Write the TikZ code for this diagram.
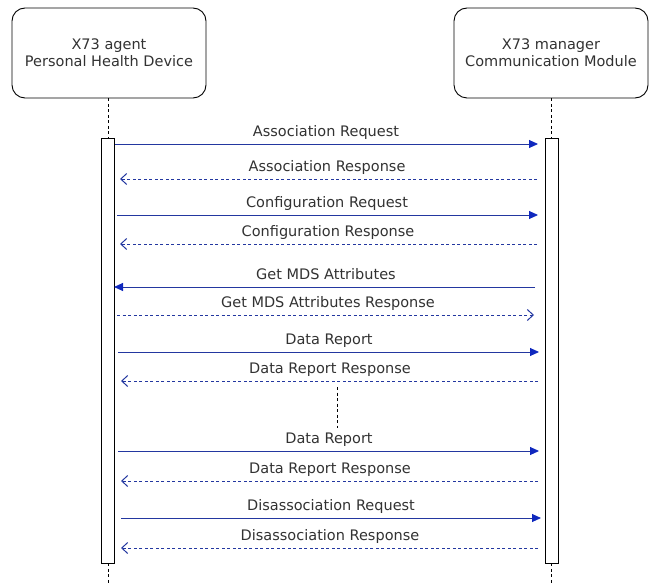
\documentclass[tikz,border=0pt]{standalone}
\usepackage{fontspec}
\setmainfont{DejaVu Sans}
\usetikzlibrary{arrows.meta}
\definecolor{msgblue}{RGB}{35,55,160}
\definecolor{headblue}{RGB}{15,40,190}
\definecolor{txtgray}{RGB}{50,50,50}
\tikzset{
  actor/.style={draw=black, line width=0.9pt, rounded corners=13pt, minimum width=194pt, minimum height=90pt, align=center, text=txtgray, font=\fontsize{14.5}{17}\selectfont},
  actbar/.style={draw=black, line width=0.9pt, fill=white, minimum width=13pt, minimum height=425pt, inner sep=0pt},
  life/.style={draw=black, dash pattern=on 3pt off 2.5pt, line width=0.8pt},
  req/.style={draw=msgblue, line width=0.9pt, -{Triangle[length=9pt,width=8pt,color=headblue]}},
  resp/.style={draw=msgblue, line width=0.9pt, dash pattern=on 3pt off 2.5pt, -{Straight Barb[length=6pt,width=11pt,line width=1pt]}},
  lbl/.style={text=txtgray, font=\fontsize{14.5}{16}\selectfont, inner sep=0pt, anchor=base}
}
\begin{document}
\begin{tikzpicture}[x=1pt,y=-1pt]
\useasboundingbox (0,0) rectangle (655,585);
\node[actor] (A) at (109,53) {X73 agent\\Personal Health Device};
\node[actor] (M) at (551,53) {X73 manager\\Communication Module};
\node[actbar] (LA) at (108,350.5) {};
\node[actbar] (RA) at (551.5,350.5) {};
\coordinate (Aend) at (108,585);
\coordinate (Mend) at (551.5,585);
\draw[life] (A.south -| LA.north) -- (LA.north);
\draw[life] (M.south -| RA.north) -- (RA.north);
\draw[life] (LA.south) -- (Aend);
\draw[life] (RA.south) -- (Mend);
% messages
\coordinate (l1) at (115,144); \coordinate (r1) at (538,144);
\draw[req] (l1) -- (r1);
\node[lbl] (t1) at (326,136.5) {Association Request};
\coordinate (l2) at (120,179); \coordinate (r2) at (537,179);
\draw[resp] (r2) -- (l2);
\node[lbl] (t2) at (327,171.5) {Association Response};
\coordinate (l3) at (117,215); \coordinate (r3) at (538,215);
\draw[req] (l3) -- (r3);
\node[lbl] (t3) at (327,207.5) {Configuration Request};
\coordinate (l4) at (120,244); \coordinate (r4) at (537,244);
\draw[resp] (r4) -- (l4);
\node[lbl] (t4) at (328,236.5) {Configuration Response};
\coordinate (l5) at (114,287); \coordinate (r5) at (535,287);
\draw[req] (r5) -- (l5);
\node[lbl] (t5) at (326,279.5) {Get MDS Attributes};
\coordinate (l6) at (117,315); \coordinate (r6) at (534,315);
\draw[resp] (l6) -- (r6);
\node[lbl] (t6) at (328,307.5) {Get MDS Attributes Response};
\coordinate (l7) at (118,352); \coordinate (r7) at (539,352);
\draw[req] (l7) -- (r7);
\node[lbl] (t7) at (329,344.5) {Data Report};
\coordinate (l8) at (121,381); \coordinate (r8) at (538,381);
\draw[resp] (r8) -- (l8);
\node[lbl] (t8) at (330,373.5) {Data Report Response};
\coordinate (d1) at (337,387); \coordinate (d2) at (337,428);
\draw[life] (d1) -- (d2);
\coordinate (l9) at (118,451); \coordinate (r9) at (539,451);
\draw[req] (l9) -- (r9);
\node[lbl] (t9) at (329,443.5) {Data Report};
\coordinate (l10) at (121,481); \coordinate (r10) at (538,481);
\draw[resp] (r10) -- (l10);
\node[lbl] (t10) at (330,473.5) {Data Report Response};
\coordinate (l11) at (121,518); \coordinate (r11) at (541,518);
\draw[req] (l11) -- (r11);
\node[lbl] (t11) at (331,510.5) {Disassociation Request};
\coordinate (l12) at (121,548); \coordinate (r12) at (538,548);
\draw[resp] (r12) -- (l12);
\node[lbl] (t12) at (330,540.5) {Disassociation Response};
\end{tikzpicture}
\end{document}
